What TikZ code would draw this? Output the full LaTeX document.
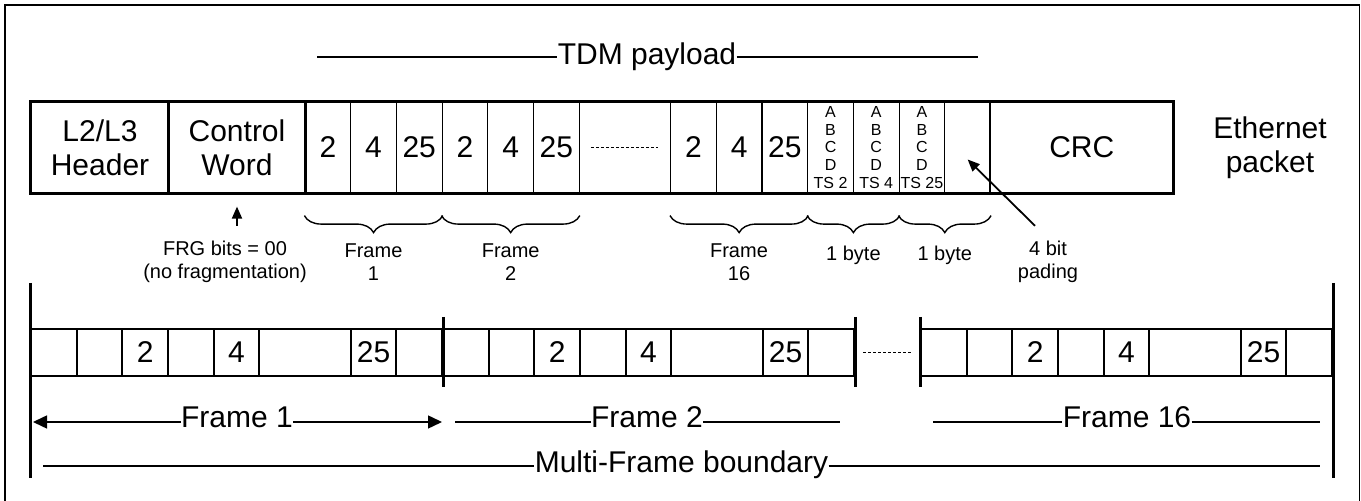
\documentclass[tikz,border=0pt]{standalone}
\usepackage{fontspec}
\setmainfont{Liberation Sans}
\usetikzlibrary{arrows.meta,decorations.pathreplacing,calc}

\tikzset{
  bigtxt/.style={font=\fontsize{15}{17}\selectfont, inner sep=0pt, align=center},
  smalltxt/.style={font=\fontsize{10}{11.5}\selectfont, inner sep=0pt, align=center},
  tinytxt/.style={font=\fontsize{8}{8.9}\selectfont, inner sep=0pt, align=center},
  pcell/.style={draw, line width=0.6pt, inner sep=0pt, minimum width=22.85pt, minimum height=45.5pt},
  mcell/.style={draw, line width=1pt, inner sep=0pt, minimum height=23.5pt},
  framebar/.style={line width=1.5pt},
  thinrule/.style={line width=0.75pt},
  brc/.style={decorate, decoration={brace, mirror, amplitude=8.5pt}, line width=0.7pt},
  arr/.style={line width=0.9pt, -{Triangle[length=6pt,width=5pt]}},
  bigarr/.style={line width=0.75pt, -{Triangle[length=7pt,width=6.5pt]}},
}

\begin{document}
\begin{tikzpicture}[x=0.5pt, y=-0.5pt]
  \useasboundingbox (0,0) rectangle (1361,501);
  \draw[line width=0.8pt] (5,501) -- (5,5) -- (1359.5,5) -- (1359.5,501);

  % Ethernet packet
  \node[pcell, bigtxt, minimum width=69pt] (hdr) at (100,147.5) {L2/L3\\Header};
  \node[pcell, bigtxt, minimum width=68pt] (ctrl) at (237,147.5) {Control\\Word};
  \foreach \k/\l in {0/2,1/4,2/25,3/2,4/4,5/25}
    \node[pcell, bigtxt] (c\k) at ({305+45.7*(\k+0.5)},147.5) {\l};
  \foreach \k/\l in {0/2,1/4,2/25}
    \node[pcell, bigtxt] (d\k) at ({670.6+45.7*(\k+0.5)},147.5) {\l};
  \foreach \k/\t in {3/2,4/4,5/25}
    \node[pcell, tinytxt] (d\k) at ({670.6+45.7*(\k+0.5)},147.5) {A\\B\\C\\D\\TS \t};
  \node[pcell] (pad) at ({670.6+45.7*6.5},147.5) {};
  \node[pcell, bigtxt, minimum width=91.25pt] (crc) at (1081.75,147.5) {CRC};
  \draw[line width=1.2pt] (hdr.north west) rectangle (crc.south east);
  \draw[line width=1.2pt] (ctrl.north west) -- (ctrl.south west)
    (ctrl.north east) -- (ctrl.south east) (crc.north west) -- (crc.south west);
  \draw[line width=0.7pt, dash pattern=on 1.5pt off 1pt]
    ([xshift=5.5pt]c5.east) -- ([xshift=-6pt]d0.west);
  \node[bigtxt] (eth) at (1270,148) {Ethernet\\packet};

  % TDM payload
  \node[bigtxt, anchor=base] (tdm) at (647,65) {TDM payload};
  \coordinate (tdmL) at (317,57);
  \coordinate (tdmR) at (978,57);
  \draw[thinrule] (tdmL) -- (tdmL -| tdm.west) (tdm.east |- tdmR) -- (tdmR);

  % braces and labels
  \draw[brc] ([yshift=-11pt]c0.south west) -- ([yshift=-11pt]c2.south east);
  \draw[brc] ([yshift=-11pt]c3.south west) -- ([yshift=-11pt]c5.south east);
  \draw[brc] ([yshift=-11pt]d0.south west) -- ([yshift=-11pt]d2.south east);
  \draw[brc] ([yshift=-11pt]d3.south west) -- ([yshift=-11pt]d4.south east);
  \draw[brc] ([yshift=-11pt]d5.south west) -- ([yshift=-11pt]pad.south east);
  \node[smalltxt] (fl1) at (373.5,262) {Frame\\1};
  \node[smalltxt] (fl2) at (510.7,262) {Frame\\2};
  \node[smalltxt] (fl16) at (739,262) {Frame\\16};
  \node[smalltxt] (by1) at (853.4,255) {1 byte};
  \node[smalltxt] (by2) at (944.8,255) {1 byte};
  \node[smalltxt] (frg) at (225,262) {FRG bits = 00\\(no fragmentation)};
  \node[smalltxt] (pad4) at (1048,262) {4 bit\\pading};
  \draw[arr] ($(frg.north -| ctrl.south)+(0,-15)$) -- ($(ctrl.south)+(0,13)$);
  \draw[arr] ($(pad4.north)+(-13,-15)$) -- ($(pad.center)+(0,12)$);

  % multi-frame row
  \foreach \f/\s in {1/31,2/443,16/921}{
    \foreach \k/\w/\l in {0/1/{},1/1/{},2/1/2,3/1/{},4/1/4,5/2/{},7/1/25,8/1/{}}
      \node[mcell, bigtxt, minimum width=\w*22.83pt] (m\f-\k) at ({\s+45.67*(\k+\w/2)},352.5) {\l};
  }
  \draw[framebar] (m1-0.west |- 0,283) -- (m1-0.west |- 0,478);
  \draw[framebar] (m16-8.east |- 0,283) -- (m16-8.east |- 0,478);
  \draw[framebar] (m1-8.east |- 0,317) -- (m1-8.east |- 0,387);
  \draw[framebar] (m2-8.east |- 0,317) -- (m2-8.east |- 0,387);
  \draw[framebar] (m16-0.west |- 0,317) -- (m16-0.west |- 0,387);
  \draw[line width=0.7pt, dash pattern=on 1.5pt off 1pt]
    ([xshift=4pt]m2-8.east) -- ([xshift=-4pt]m16-0.west);

  % frame labels
  \node[bigtxt, anchor=base] (fr1) at (237,428) {Frame 1};
  \node[bigtxt, anchor=base] (fr2) at (647,428) {Frame 2};
  \node[bigtxt, anchor=base] (fr16) at (1127,428) {Frame 16};
  \node[bigtxt, anchor=base] (mf) at (681.5,473) {Multi-Frame boundary};
  \coordinate (fr1L) at (33,422);   \coordinate (fr1R) at (442,422);
  \coordinate (fr2L) at (455,422);  \coordinate (fr2R) at (840,422);
  \coordinate (fr16L) at (933,422); \coordinate (fr16R) at (1320,422);
  \coordinate (mfL) at (43,466);    \coordinate (mfR) at (1320,466);
  \draw[bigarr] (fr1.west |- fr1L) -- (fr1L);
  \draw[bigarr] (fr1.east |- fr1R) -- (fr1R);
  \draw[thinrule] (fr2L) -- (fr2L -| fr2.west) (fr2.east |- fr2R) -- (fr2R);
  \draw[thinrule] (fr16L) -- (fr16L -| fr16.west) (fr16.east |- fr16R) -- (fr16R);
  \draw[thinrule] (mfL) -- (mfL -| mf.west) (mf.east |- mfR) -- (mfR);
\end{tikzpicture}
\end{document}
